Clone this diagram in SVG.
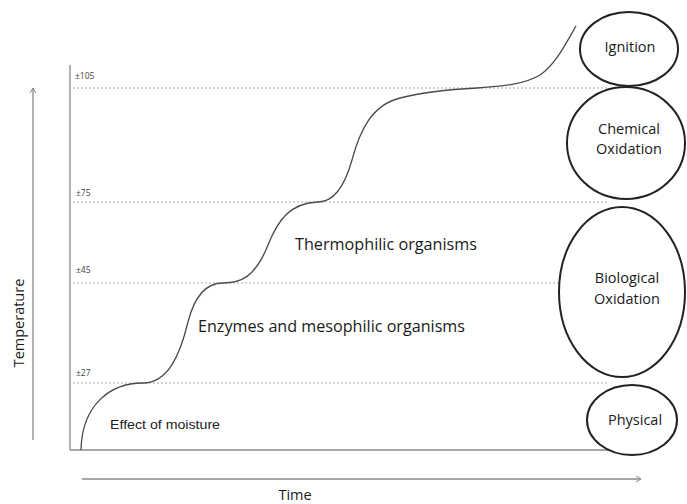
<svg xmlns="http://www.w3.org/2000/svg" width="687" height="504" viewBox="0 0 687 504">
<style>
.axis{stroke:#8a8a8a;stroke-width:1.3;fill:none}
.dash{stroke:#a8a8a8;stroke-width:1;stroke-dasharray:2 2;fill:none}
.curve{stroke:#4a4a4a;stroke-width:1.3;fill:none}
.ell{stroke:#222;stroke-width:2;fill:#fff}
.lab{font-family:"Open Sans","Liberation Sans",sans-serif;fill:#1a1a1a}
.tick{font-family:"Open Sans","Liberation Sans",sans-serif;font-size:8.5px;fill:#444}
</style>
<defs>
<marker id="chev" markerWidth="8" markerHeight="8" refX="6" refY="4" orient="auto" markerUnits="userSpaceOnUse">
<path d="M1,1 L6,4 L1,7" fill="none" stroke="#8a8a8a" stroke-width="1"/>
</marker>
</defs>
<rect width="687" height="504" fill="#fff"/>
<g id="connectors">
<line class="axis" x1="70" y1="65" x2="70" y2="450"/>
<line class="axis" x1="70" y1="450" x2="640" y2="450"/>
<line class="axis" x1="33" y1="440" x2="33" y2="88" marker-end="url(#chev)"/>
<line class="axis" x1="82" y1="479" x2="641" y2="479" marker-end="url(#chev)"/>
<line class="dash" x1="73" y1="88" x2="608" y2="88"/>
<line class="dash" x1="73" y1="202" x2="608" y2="202"/>
<line class="dash" x1="73" y1="283" x2="608" y2="283"/>
<line class="dash" x1="73" y1="383" x2="608" y2="383"/>
<path class="curve" d="M81,450 C82,405 110,383 143,383 C168,383 180,355 188,322 C194,298 205,283 223,283 C240,283 255,278 268,245 C278,220 290,203 318,202 C335,202 345,185 352,160 C360,130 372,105 400,98 C420,93 440,90 477,88 C505,86 525,84 540,75 C555,65 565,45 576,26"/>
</g>
<text class="tick" x="75" y="79">±105</text>
<text class="tick" x="76" y="196">±75</text>
<text class="tick" x="76" y="273">±45</text>
<text class="tick" x="76" y="376">±27</text>
<text class="lab" x="295" y="250" font-size="16" textLength="182" lengthAdjust="spacingAndGlyphs">Thermophilic organisms</text>
<text class="lab" x="198" y="332" font-size="16" textLength="267" lengthAdjust="spacingAndGlyphs">Enzymes and mesophilic organisms</text>
<text x="110" y="429" font-family="Liberation Sans, Arial, sans-serif" font-size="13" fill="#222" textLength="110" lengthAdjust="spacingAndGlyphs">Effect of moisture</text>
<text class="lab" font-size="14.5" transform="translate(24,323) rotate(-90)" text-anchor="middle">Temperature</text>
<text class="lab" x="295" y="500" font-size="14.5" text-anchor="middle">Time</text>
<g id="ignition">
<ellipse class="ell" cx="629" cy="49" rx="49" ry="37"/>
<text class="lab" x="630" y="52" font-size="14.5" text-anchor="middle">Ignition</text>
</g>
<g id="chemical">
<ellipse class="ell" cx="626" cy="143" rx="59" ry="56"/>
<text class="lab" x="629" y="134" font-size="14.5" text-anchor="middle">Chemical</text>
<text class="lab" x="629" y="154" font-size="14.5" text-anchor="middle">Oxidation</text>
</g>
<g id="biological">
<ellipse class="ell" cx="622" cy="292" rx="63" ry="85"/>
<text class="lab" x="627" y="283" font-size="14.5" text-anchor="middle">Biological</text>
<text class="lab" x="627" y="304" font-size="14.5" text-anchor="middle">Oxidation</text>
</g>
<g id="physical">
<ellipse class="ell" cx="632" cy="420" rx="45" ry="35"/>
<text class="lab" x="635" y="425" font-size="14.5" text-anchor="middle">Physical</text>
</g>
</svg>
